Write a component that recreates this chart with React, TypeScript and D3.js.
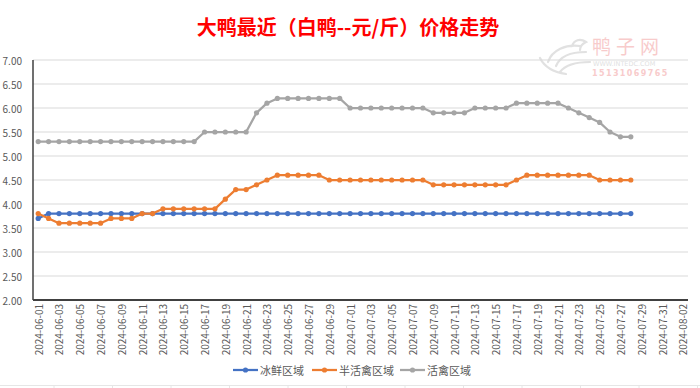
import * as d3 from "d3";

const startDay = new Date(2024, 5, 1);
const dataEnd = new Date(2024, 6, 29);
const axisEnd = new Date(2024, 7, 3);

const dates = d3.timeDay.range(startDay, dataEnd);
const tickDates = d3.timeDay.range(startDay, axisEnd, 2);
const yTicks = [2, 2.5, 3, 3.5, 4, 4.5, 5, 5.5, 6, 6.5, 7];

// 冰鲜区域
const iceFresh = [
  3.7, 3.8, 3.8, 3.8, 3.8, 3.8, 3.8, 3.8, 3.8, 3.8, 3.8, 3.8, 3.8, 3.8, 3.8,
  3.8, 3.8, 3.8, 3.8, 3.8, 3.8, 3.8, 3.8, 3.8, 3.8, 3.8, 3.8, 3.8, 3.8, 3.8,
  3.8, 3.8, 3.8, 3.8, 3.8, 3.8, 3.8, 3.8, 3.8, 3.8, 3.8, 3.8, 3.8, 3.8, 3.8,
  3.8, 3.8, 3.8, 3.8, 3.8, 3.8, 3.8, 3.8, 3.8, 3.8, 3.8, 3.8, 3.8,
];
// 半活禽区域
const semiLive = [
  3.8, 3.7, 3.6, 3.6, 3.6, 3.6, 3.6, 3.7, 3.7, 3.7, 3.8, 3.8, 3.9, 3.9, 3.9,
  3.9, 3.9, 3.9, 4.1, 4.3, 4.3, 4.4, 4.5, 4.6, 4.6, 4.6, 4.6, 4.6, 4.5, 4.5,
  4.5, 4.5, 4.5, 4.5, 4.5, 4.5, 4.5, 4.5, 4.4, 4.4, 4.4, 4.4, 4.4, 4.4, 4.4,
  4.4, 4.5, 4.6, 4.6, 4.6, 4.6, 4.6, 4.6, 4.6, 4.5, 4.5, 4.5, 4.5,
];
// 活禽区域
const live = [
  5.3, 5.3, 5.3, 5.3, 5.3, 5.3, 5.3, 5.3, 5.3, 5.3, 5.3, 5.3, 5.3, 5.3, 5.3,
  5.3, 5.5, 5.5, 5.5, 5.5, 5.5, 5.9, 6.1, 6.2, 6.2, 6.2, 6.2, 6.2, 6.2, 6.2,
  6.0, 6.0, 6.0, 6.0, 6.0, 6.0, 6.0, 6.0, 5.9, 5.9, 5.9, 5.9, 6.0, 6.0, 6.0,
  6.0, 6.1, 6.1, 6.1, 6.1, 6.1, 6.0, 5.9, 5.8, 5.7, 5.5, 5.4, 5.4,
];

const series = [
  { name: "冰鲜区域", values: iceFresh, color: "#4472C4" },
  { name: "半活禽区域", values: semiLive, color: "#ED7D31" },
  { name: "活禽区域", values: live, color: "#A5A5A5" },
];

const font = "'Noto Sans CJK SC', 'Noto Sans', sans-serif";

export default function App() {
  const width = 700;
  const height = 388;
  const plot = { left: 33, right: 688, top: 60, bottom: 300 };

  // date axis: each day occupies a slot, points sit at the slot centre
  const x = d3
    .scaleTime()
    .domain([d3.timeHour.offset(startDay, -12), d3.timeHour.offset(axisEnd, -12)])
    .range([plot.left, plot.right]);
  const y = d3.scaleLinear().domain([2, 7]).range([plot.bottom, plot.top]);
  const fmt = d3.timeFormat("%Y-%m-%d");

  const line = d3
    .line<number>()
    .x((_, i) => x(dates[i]))
    .y((d) => y(d));

  const legendItems = [
    { x: 233, textX: 260 },
    { x: 312, textX: 339 },
    { x: 400, textX: 427 },
  ];

  return (
    <svg
      width={width}
      height={height}
      style={{ position: "absolute", left: 0, top: 0, background: "#fff" }}
      fontFamily={font}
    >
      <rect width={width} height={height} fill="#fff" />

      {/* faint sheet grid at the bottom */}
      <line x1={0} x2={width} y1={385.5} y2={385.5} stroke="#e6e6e6" />
      {d3.range(54, width, 58.5).map((gx) => (
        <line key={gx} x1={gx} x2={gx} y1={385} y2={388} stroke="#e6e6e6" />
      ))}

      <text
        x={348}
        y={35}
        textAnchor="middle"
        fontSize={20}
        fontWeight="bold"
        fill="#FF0000"
      >
        大鸭最近（白鸭--元/斤）价格走势
      </text>

      {/* watermark */}
      <g opacity={0.55}>
        <path
          d="M548 62 C552 50 566 44 580 46 M556 66 C560 56 570 52 586 52 M560 72 C566 64 578 62 590 62 M540 58 C544 66 552 72 566 74 M572 46 C574 40 580 38 586 42 C582 44 580 46 580 50"
          fill="none"
          stroke="#c9c9c9"
          strokeWidth={2.2}
          strokeLinecap="round"
        />
        <text x={592} y={54} fontSize={19} fill="#f3a2a2" letterSpacing={5}>
          鸭子网
        </text>
        <text x={593} y={66} fontSize={6.5} fill="#c8c8c8" fontFamily="'DejaVu Sans', sans-serif">
          WWW.INTEDC.COM
        </text>
        <text
          x={592}
          y={76}
          fontSize={8}
          fontWeight="bold"
          fill="#f3a2a2"
          letterSpacing={1.4}
          fontFamily="'DejaVu Sans', sans-serif"
        >
          15131069765
        </text>
      </g>

      {/* gridlines */}
      {yTicks.map((t) => (
        <line
          key={t}
          x1={plot.left}
          x2={plot.right}
          y1={y(t)}
          y2={y(t)}
          stroke="#d9d9d9"
          strokeWidth={1}
        />
      ))}
      {yTicks.map((t) => (
        <text
          key={"l" + t}
          x={22}
          y={y(t)}
          textAnchor="end"
          dominantBaseline="central"
          fontSize={10}
          fill="#595959"
        >
          {t.toFixed(2)}
        </text>
      ))}

      {/* axes */}
      <line x1={plot.left} x2={plot.left} y1={plot.top} y2={plot.bottom} stroke="#404040" strokeWidth={1.5} />
      <line x1={plot.left} x2={plot.right} y1={plot.bottom} y2={plot.bottom} stroke="#404040" strokeWidth={2} />

      {tickDates.map((d) => (
        <text
          key={+d}
          transform={`translate(${x(d)},${plot.bottom + 4}) rotate(-90)`}
          textAnchor="end"
          dominantBaseline="central"
          fontSize={10}
          fill="#595959"
        >
          {fmt(d)}
        </text>
      ))}

      {/* series */}
      {series.map((s) => (
        <g key={s.name}>
          <path d={line(s.values) ?? ""} fill="none" stroke={s.color} strokeWidth={2.25} strokeLinejoin="round" />
          {s.values.map((v, i) => (
            <circle key={i} cx={x(dates[i])} cy={y(v)} r={2.6} fill={s.color} />
          ))}
        </g>
      ))}

      {/* legend */}
      {series.map((s, i) => (
        <g key={"lg" + s.name}>
          <line
            x1={legendItems[i].x}
            x2={legendItems[i].x + 25}
            y1={370}
            y2={370}
            stroke={s.color}
            strokeWidth={2.25}
          />
          <circle cx={legendItems[i].x + 12.5} cy={370} r={2.6} fill={s.color} />
          <text
            x={legendItems[i].textX}
            y={370}
            dominantBaseline="central"
            fontSize={11}
            fill="#595959"
          >
            {s.name}
          </text>
        </g>
      ))}
    </svg>
  );
}
